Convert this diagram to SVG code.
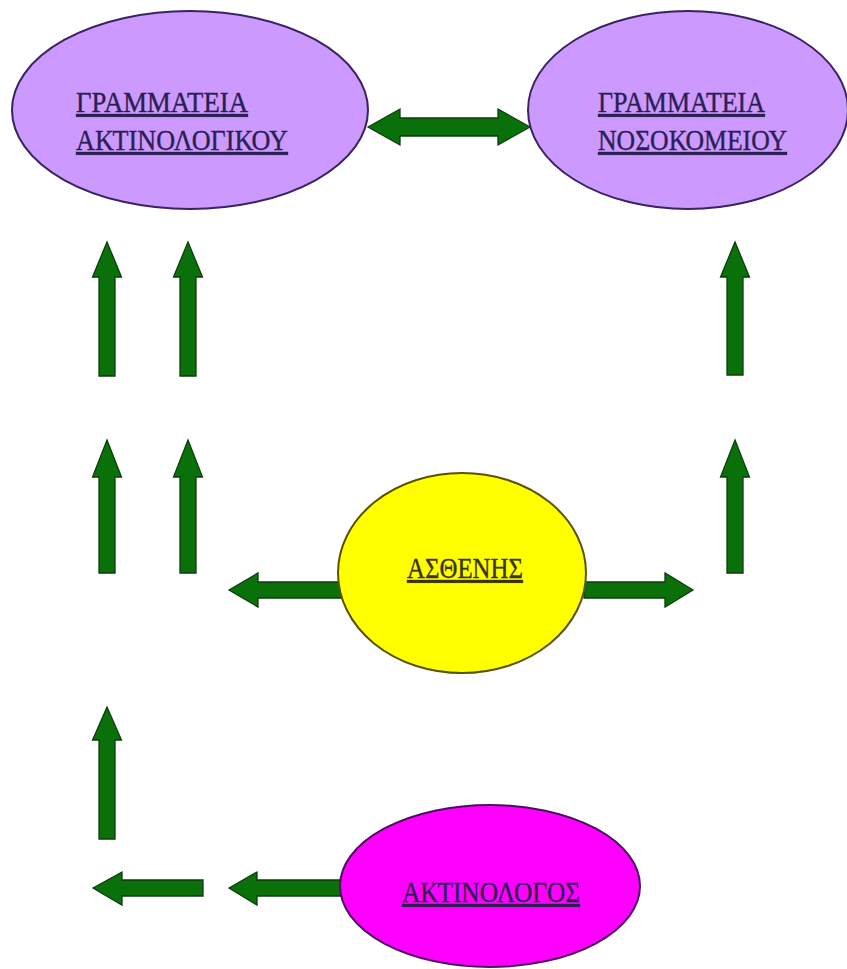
<svg xmlns="http://www.w3.org/2000/svg" width="847" height="969" viewBox="0 0 847 969">
  <style>
    .arrow { fill: #0a700a; stroke: #0b3d0b; stroke-width: 1.3; stroke-linejoin: miter; }
    .node { stroke-width: 2; }
    .lbl { font-family: "Liberation Serif", "DejaVu Serif", serif; font-size: 29px; text-decoration: underline; stroke-width: 0.35; }
    .purple { fill: #cc99ff; stroke: #3a2460; }
    .yellow { fill: #ffff00; stroke: #5a5200; }
    .magenta { fill: #ff00ff; stroke: #4a1060; }
    .t-dark { fill: #2a2050; stroke: #2a2050; }
    .t-olive { fill: #3a3210; stroke: #3a3210; }
  </style>

  <g id="connectors">
    <!-- two-way arrow between the secretariats -->
    <path class="arrow" d="M368,127 L400,109 L400,118 L498,118 L498,109 L530,127 L498,145 L498,136 L400,136 L400,145 Z"/>
    <!-- upward arrows, upper row -->
    <path class="arrow" d="M107,242 L121.5,277 L115,277 L115,376 L99,376 L99,277 L92.5,277 Z"/>
    <path class="arrow" d="M188,242 L202.5,277 L196,277 L196,376 L180,376 L180,277 L173.5,277 Z"/>
    <path class="arrow" d="M735,242 L749.5,277 L743,277 L743,375 L727,375 L727,277 L720.5,277 Z"/>
    <!-- upward arrows, middle row -->
    <path class="arrow" d="M107,440 L121.5,477 L115,477 L115,573 L99,573 L99,477 L92.5,477 Z"/>
    <path class="arrow" d="M188,440 L202.5,477 L196,477 L196,573 L180,573 L180,477 L173.5,477 Z"/>
    <path class="arrow" d="M735,440 L749.5,477 L743,477 L743,573 L727,573 L727,477 L720.5,477 Z"/>
    <!-- upward arrow, lower row -->
    <path class="arrow" d="M107,707 L121.5,740 L115,740 L115,839 L99,839 L99,740 L92.5,740 Z"/>
    <!-- patient arrows -->
    <path class="arrow" d="M229,590 L258,573 L258,582 L342,582 L342,598 L258,598 L258,607 Z"/>
    <path class="arrow" d="M693,590 L665,573 L665,582 L584,582 L584,598 L665,598 L665,607 Z"/>
    <!-- radiologist arrows -->
    <path class="arrow" d="M93,888 L122,872 L122,880 L203,880 L203,896 L122,896 L122,905 Z"/>
    <path class="arrow" d="M229,888 L257,872 L257,880 L345,880 L345,896 L257,896 L257,905 Z"/>
  </g>

  <g id="radiology-secretariat">
    <ellipse class="node purple" cx="190" cy="110" rx="178" ry="99"/>
    <text class="lbl t-dark" x="76" y="112" textLength="172" lengthAdjust="spacingAndGlyphs">ΓΡΑΜΜΑΤΕΙΑ</text>
    <text class="lbl t-dark" x="76" y="150" textLength="212" lengthAdjust="spacingAndGlyphs">ΑΚΤΙΝΟΛΟΓΙΚΟΥ</text>
  </g>

  <g id="hospital-secretariat">
    <ellipse class="node purple" cx="688" cy="110" rx="160" ry="99"/>
    <text class="lbl t-dark" x="598" y="112" textLength="167" lengthAdjust="spacingAndGlyphs">ΓΡΑΜΜΑΤΕΙΑ</text>
    <text class="lbl t-dark" x="598" y="150" textLength="189" lengthAdjust="spacingAndGlyphs">ΝΟΣΟΚΟΜΕΙΟΥ</text>
  </g>

  <g id="patient">
    <ellipse class="node yellow" cx="462" cy="573" rx="124" ry="100"/>
    <text class="lbl t-olive" x="407" y="578" textLength="116" lengthAdjust="spacingAndGlyphs">ΑΣΘΕΝΗΣ</text>
  </g>

  <g id="radiologist">
    <ellipse class="node magenta" cx="490" cy="886" rx="150" ry="81"/>
    <text class="lbl t-dark" x="402" y="902" textLength="178" lengthAdjust="spacingAndGlyphs">ΑΚΤΙΝΟΛΟΓΟΣ</text>
  </g>
</svg>
